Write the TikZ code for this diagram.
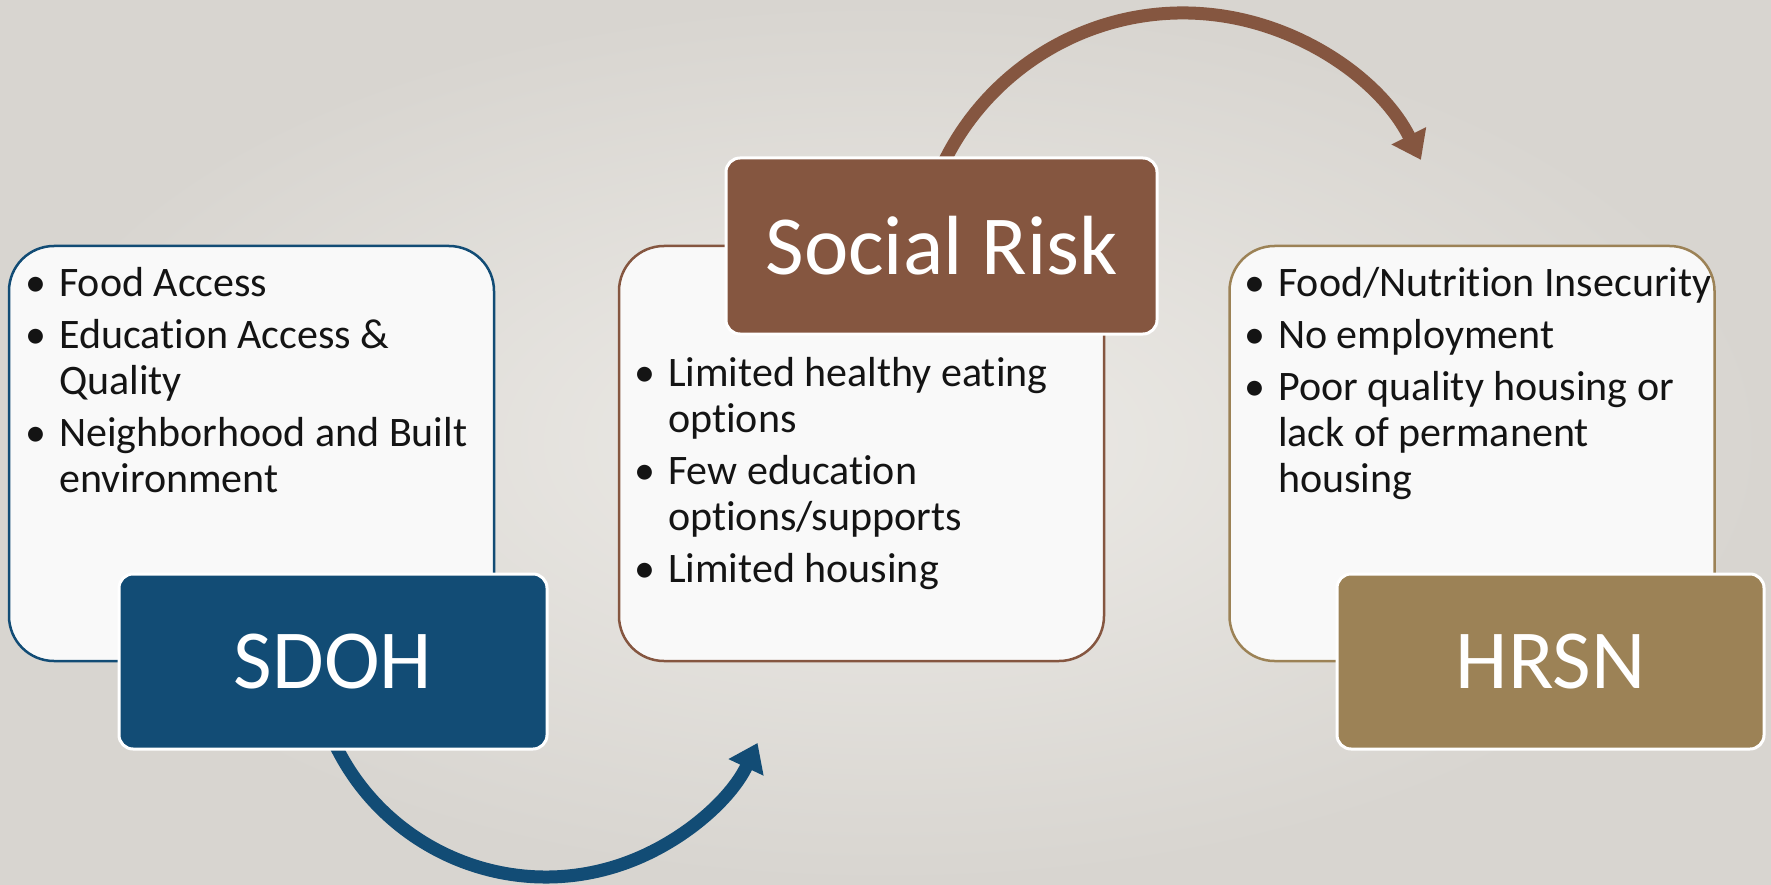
\documentclass[tikz,border=0pt]{standalone}
\usepackage{fontspec}
\setmainfont{Carlito}[Ligatures=NoCommon]
\usetikzlibrary{arrows.meta}

\definecolor{sdohblue}{RGB}{18,76,117}
\definecolor{riskbrown}{RGB}{133,86,64}
\definecolor{hrsngold}{RGB}{156,130,86}
\definecolor{boxwhite}{RGB}{249,249,249}
\definecolor{bglight}{RGB}{237,235,231}
\definecolor{bgdark}{RGB}{216,213,208}

\newcommand{\bul}{\makebox[46pt][c]{\textbullet}}
% keep t and i apart (no ti ligature)
\newcommand{\ti}{t\kern0pt i}

\begin{document}
\begin{tikzpicture}[x=1pt,y=1pt,yscale=-1,xscale=1,
  listbox/.style={draw=#1, line width=2.5pt, fill=boxwhite, rounded corners=45pt,
    minimum width=485pt, minimum height=415pt, inner sep=0pt},
  titlebox/.style={draw=white, fill=#1, line width=3pt, rounded corners=14pt,
    minimum width=428pt, minimum height=175pt, inner sep=0pt,
    text=white, font=\fontsize{84}{90}\selectfont},
  listtext/.style={anchor=base west, inner sep=0pt,
    font=\fontsize{42}{46}\selectfont, text=black!92},
  flow/.style={draw=#1, line width=13pt, -{Triangle[length=27pt,width=37pt]}}]
\useasboundingbox (0,0) rectangle (1771,885);

%Background
\shade[inner color=bglight, outer color=bgdark] (0,0) rectangle (1771,885);

%Curved Arrows (behind the boxes)
\coordinate (sdohTail) at (326.1,723.0);
\draw[flow=sdohblue] (sdohTail) arc[start angle=160, end angle=25.3, radius=234];
\coordinate (riskTail) at (921.1,232.8);
\draw[flow=riskbrown] (riskTail) arc[start angle=-170, end angle=-26.6, radius=266];

%Shape: list boxes
\node[listbox=sdohblue] (sdohList) at (251.5,453.5) {};
\node[listbox=riskbrown] (riskList) at (861.5,453.5) {};
\node[listbox=hrsngold] (hrsnList) at (1472,453.5) {};

%Shape: title boxes
\node[titlebox=sdohblue] (sdoh) at (333,661.5) {SDOH};
\node[titlebox=riskbrown, minimum width=431pt, minimum height=176pt] (risk) at (941.5,246) {Social Risk};
\node[titlebox=hrsngold, minimum width=427pt] (hrsn) at (1550.5,661.5) {HRSN};

% Text Node
\node[listtext] (sdohText) at (13,296) {\begin{tabular}[t]{@{}l@{}l@{}}
\bul & Food Access\\[6pt]
\bul & Educa\ti on Access \&\\
     & Quality\\[6pt]
\bul & Neighborhood and Built\\
     & environment
\end{tabular}};
% Text Node
\node[listtext] (riskText) at (622,386) {\begin{tabular}[t]{@{}l@{}l@{}}
\bul & Limited healthy eating\\
     & op\ti ons\\[6pt]
\bul & Few educa\ti on\\
     & op\ti ons/supports\\[6pt]
\bul & Limited housing
\end{tabular}};
% Text Node
\node[listtext] (hrsnText) at (1232,296) {\begin{tabular}[t]{@{}l@{}l@{}}
\bul & Food/Nutri\ti on Insecurity\\[6pt]
\bul & No employment\\[6pt]
\bul & Poor quality housing or\\
     & lack of permanent\\
     & housing
\end{tabular}};

\end{tikzpicture}
\end{document}
